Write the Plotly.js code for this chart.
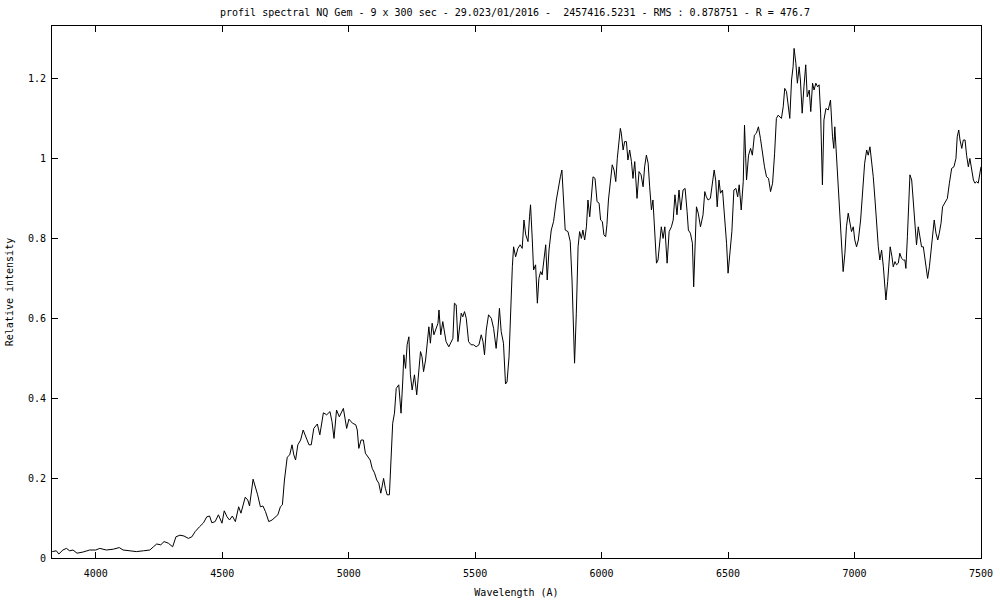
<!DOCTYPE html>
<html>
<head>
<meta charset="utf-8">
<script src="https://cdn.plot.ly/plotly-3.0.1.min.js"></script>
<style>html,body{margin:0;padding:0;background:#fff;}#chart{width:1000px;height:600px;}</style>
</head>
<body>
<div id="chart"></div>
<script>
const wavelength = [
3828,3844,3854,3870,3884,3897,3910,3926,3950,3976,4000,4016,4042,4069,4093,4108,4135,4161,4188,4214,4228,4241,4257,4270,4287,4304,4317,4333,4349,4366,4380,4393,4410,4426,4439,4450,4459,4472,4485,4499,4508,4519,4529,4540,4552,4565,4574,4582,4591,4601,4608,4622,4631,4640,4651,4661,4671,4684,4697,4710,4720,4730,4738,4746,4757,4767,4776,4783,4790,4799,4810,4820,4829,4843,4852,4862,4876,4886,4900,4913,4926,4934,4942,4952,4963,4979,4992,5001,5015,5028,5034,5040,5049,
5058,5066,5075,5085,5093,5102,5111,5119,5127,5138,5145,5152,5161,5168,5174,5181,5188,5198,5207,5214,5218,5225,5231,5238,5244,5251,5260,5269,5277,5284,5290,5296,5304,5310,5317,5323,5330,5337,5346,5353,5357,5364,5372,5379,5385,5396,5405,5412,5418,5425,5432,5438,5445,5451,5458,5465,5474,5484,5494,5504,5515,5524,5531,5537,5544,5553,5564,5573,5583,5590,5596,5603,5612,5620,5626,5634,5639,5647,
5652,5660,5669,5678,5686,5693,5700,5709,5715,5719,5726,5731,5739,5746,5752,5759,5765,5772,5779,5785,5792,5801,5810,5821,5829,5837,5843,5850,5856,5867,5876,5883,5889,5893,5900,5907,5913,5920,5926,5933,5940,5946,5953,5959,5966,5974,5982,5990,5996,6003,6009,6016,6021,6027,6034,6042,6049,6056,6062,6069,
6074,6078,6085,6091,6098,6104,6111,6118,6124,6131,6140,6148,6156,6164,6170,6177,6184,6190,6197,6203,6210,6217,6223,6230,6236,6243,6250,6259,6267,6276,6283,6290,6298,6306,6313,6322,6330,6338,6343,6351,6359,6364,6370,6375,6382,6391,6401,6408,6414,6421,6430,6438,6445,6451,6457,6464,6470,6478,6487,6494,6500,6507,6515,6523,6531,6538,6544,6552,6560,6565,6573,6581,6589,6596,6604,6612,6620,6628,6636,6644,6652,6660,6668,6676,6684,6691,6698,
6705,6711,6718,6724,6731,6738,6744,6751,6757,6761,6768,6774,6781,6786,6793,6800,6807,6813,6821,6827,6834,6840,6847,6854,6860,6866,
6873,6879,6887,6896,6905,6913,6918,6922,6929,6935,6942,6949,6955,6962,6968,6975,6982,6988,6995,7001,7008,7015,7024,7032,7040,7048,7054,7061,7067,7074,7081,7087,7094,7100,7107,7114,7120,7124,7131,7136,7141,7148,7153,7160,7166,7173,7179,7186,7193,7199,7203,7209,7214,7219,7226,7232,7239,7245,7252,7259,7265,7272,7278,7285,7289,7296,7302,7309,7315,7322,7329,7335,7342,7348,7357,7367,7375,7384,7393,7401,7406,7412,7417,7424,7430,7437,7443,7450,7456,7463,7470,7476,7483,7489,7496,7500
];
const intensity = [
0.016,0.018,0.010,0.020,0.024,0.018,0.020,0.012,0.015,0.020,0.020,0.024,0.020,0.022,0.026,0.020,0.018,0.016,0.018,0.020,0.028,0.035,0.033,0.041,0.037,0.028,0.053,0.057,0.055,0.049,0.053,0.066,0.078,0.088,0.103,0.105,0.088,0.091,0.108,0.087,0.118,0.103,0.095,0.105,0.091,0.128,0.112,0.128,0.152,0.145,0.130,0.197,0.178,0.158,0.128,0.130,0.116,0.091,0.095,0.103,0.108,0.128,0.133,0.195,0.252,0.258,0.283,0.258,0.245,0.283,0.295,0.320,0.305,0.283,0.283,0.324,0.335,0.308,0.363,0.358,0.366,0.341,0.299,0.370,0.353,0.374,0.324,0.347,0.337,0.333,0.320,0.274,0.295,
0.295,0.262,0.253,0.245,0.224,0.213,0.195,0.187,0.162,0.199,0.174,0.158,0.158,0.270,0.337,0.362,0.424,0.433,0.362,0.445,0.508,0.474,0.533,0.553,0.458,0.420,0.458,0.408,0.470,0.516,0.503,0.466,0.495,0.533,0.578,0.537,0.587,0.558,0.578,0.587,0.620,0.558,0.591,0.558,0.541,0.528,0.541,0.549,0.637,0.633,0.541,0.583,0.612,0.603,0.616,0.599,0.541,0.533,0.533,0.528,0.533,0.558,0.541,0.508,0.570,0.608,0.599,0.574,0.524,0.570,0.624,0.566,0.537,0.435,0.440,0.503,0.612,0.728,
0.778,0.753,0.774,0.783,0.774,0.845,0.808,0.791,0.853,0.883,0.795,0.720,0.733,0.637,0.699,0.716,0.708,0.741,0.783,0.695,0.770,0.820,0.841,0.895,0.928,0.953,0.970,0.878,0.820,0.816,0.791,0.695,0.562,0.487,0.612,0.778,0.816,0.799,0.820,0.795,0.828,0.895,0.853,0.900,0.953,0.949,0.891,0.887,0.845,0.841,0.808,0.803,0.833,0.895,0.941,0.983,0.970,0.941,0.999,1.041,
1.074,1.062,1.020,1.041,1.041,0.995,1.020,0.991,0.949,0.991,0.899,0.966,0.958,0.928,0.978,1.007,0.987,0.928,0.870,0.895,0.812,0.737,0.745,0.795,0.828,0.799,0.828,0.737,0.816,0.828,0.845,0.908,0.858,0.920,0.870,0.920,0.924,0.866,0.820,0.812,0.787,0.678,0.778,0.878,0.862,0.828,0.858,0.916,0.903,0.895,0.899,0.941,0.970,0.945,0.878,0.945,0.912,0.920,0.849,0.787,0.712,0.762,0.816,0.920,0.924,0.903,0.933,0.870,0.941,1.082,0.945,1.007,1.024,1.007,1.057,1.062,1.078,1.049,1.012,0.978,0.953,0.949,0.916,0.937,1.012,1.099,1.107,
1.103,1.099,1.128,1.174,1.166,1.133,1.099,1.195,1.228,1.274,1.237,1.187,1.228,1.195,1.112,1.178,1.233,1.153,1.170,1.116,1.187,1.170,1.187,1.178,1.183,1.112,
0.933,1.095,1.124,1.120,1.145,1.053,1.024,1.078,1.003,0.949,0.870,0.803,0.716,0.762,0.828,0.862,0.837,0.816,0.828,0.795,0.778,0.795,0.845,0.928,0.987,1.020,1.007,1.028,0.999,0.953,0.895,0.837,0.778,0.745,0.770,0.728,0.678,0.645,0.691,0.737,0.778,0.753,0.728,0.741,0.733,0.737,0.762,0.749,0.745,0.745,0.724,0.803,0.887,0.958,0.945,0.895,0.837,0.783,0.828,0.795,0.778,0.778,0.753,0.720,0.699,0.728,0.762,0.803,0.845,0.812,0.795,0.812,0.837,0.878,0.887,0.899,0.937,0.974,0.978,0.999,1.053,1.070,1.045,1.024,1.045,1.045,1.007,0.978,0.999,0.970,0.945,0.937,0.941,0.937,0.966,0.978
];
const xTicks = [4000,4500,5000,5500,6000,6500,7000,7500];
const yTicks = [0,0.2,0.4,0.6,0.8,1,1.2];
const yTickLabels = ['0','0.2','0.4','0.6','0.8','1','1.2'];
const titleText = 'profil spectral NQ Gem - 9 x 300 sec - 29.023/01/2016 -  2457416.5231 - RMS : 0.878751 - R = 476.7';

const font = {family: 'DejaVu Sans Mono, monospace', size: 10, color: '#000'};
const axisCommon = {
  showgrid: false, zeroline: false, showline: true, linecolor: '#000', linewidth: 1,
  mirror: 'allticks', ticks: 'inside', ticklen: 6, tickcolor: '#000', tickwidth: 1,
  tickfont: font
};
Plotly.newPlot('chart', [{
  x: wavelength, y: intensity, type: 'scatter', mode: 'lines',
  line: {color: '#000', width: 1}, hoverinfo: 'x+y'
}], {
  width: 1000, height: 600,
  paper_bgcolor: '#fff', plot_bgcolor: '#fff',
  margin: {l: 52, r: 19, t: 26, b: 42},
  showlegend: false,
  font: font,
  title: {text: titleText, font: font, x: 0.515, xanchor: 'center', y: 0.98, yanchor: 'middle'},
  xaxis: Object.assign({}, axisCommon, {
    range: [3827, 7500], tickvals: xTicks, ticktext: xTicks.map(String),
    ticklabelstandoff: 6,
    title: {text: 'Wavelength (A)', font: font, standoff: 10}
  }),
  yaxis: Object.assign({}, axisCommon, {
    range: [0, 1.33], tickvals: yTicks, ticktext: yTickLabels,
    ticklabelstandoff: 3,
    title: {text: 'Relative intensity', font: font, standoff: 12}
  })
}, {displayModeBar: false, staticPlot: true});
</script>
</body>
</html>
